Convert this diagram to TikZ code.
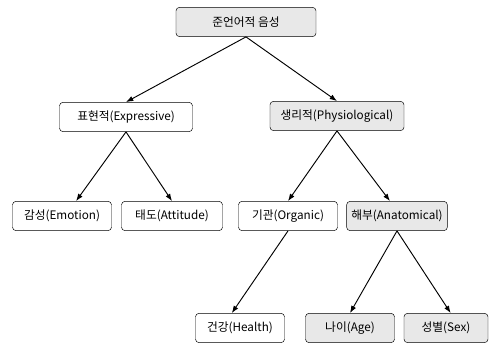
\documentclass[tikz,border=0pt]{standalone}
\usepackage{fontspec}
\setmainfont{Noto Sans CJK KR}
\usetikzlibrary{arrows.meta}
\begin{document}
\begin{tikzpicture}[x=0.03cm,y=-0.03cm,
    box/.style={draw,rounded corners=3pt,minimum height=0.88cm,inner xsep=4pt,font=\fontsize{10}{12}\selectfont},
    grey/.style={box,fill=gray!18},
    link/.style={-{Latex[length=2.2mm,width=1.6mm]},line width=0.8pt}]
    \useasboundingbox (0,0) rectangle (495,349);

    % top
    \node[grey,minimum width=4.2cm] (voice) at (246,22) {준언어적 음성};

    % second row
    \node[box,minimum width=3.99cm] (expr) at (126,117) {표현적(Expressive)};
    \node[grey,minimum width=4.02cm] (phys) at (337,116) {생리적(Physiological)};

    % third row
    \node[box,minimum width=2.97cm] (emo) at (62,216) {감성(Emotion)};
    \node[box,minimum width=3.03cm] (att) at (172,216) {태도(Attitude)};
    \node[box,minimum width=2.97cm] (org) at (288,216) {기관(Organic)};
    \node[grey,minimum width=3cm] (anat) at (397,216) {해부(Anatomical)};

    % bottom row
    \node[box,minimum width=2.67cm] (hlth) at (240,328) {건강(Health)};
    \node[grey,minimum width=2.67cm] (age) at (350,328) {나이(Age)};
    \node[grey,minimum width=2.52cm] (sex) at (446,328) {성별(Sex)};

    \draw[link] (voice.south) -- (expr.north);
    \draw[link] (voice.south) -- (phys.north);
    \draw[link] (expr.south) -- ([xshift=12]emo.north);
    \draw[link] (expr.south) -- (att.north);
    \draw[link] (phys.south) -- (org.north);
    \draw[link] (phys.south) -- ([xshift=-6]anat.north);
    \draw[link] (org.south) -- ([xshift=-7]hlth.north);
    \draw[link] (anat.south) -- (age.north);
    \draw[link] (anat.south) -- ([xshift=4]sex.north);
\end{tikzpicture}
\end{document}
